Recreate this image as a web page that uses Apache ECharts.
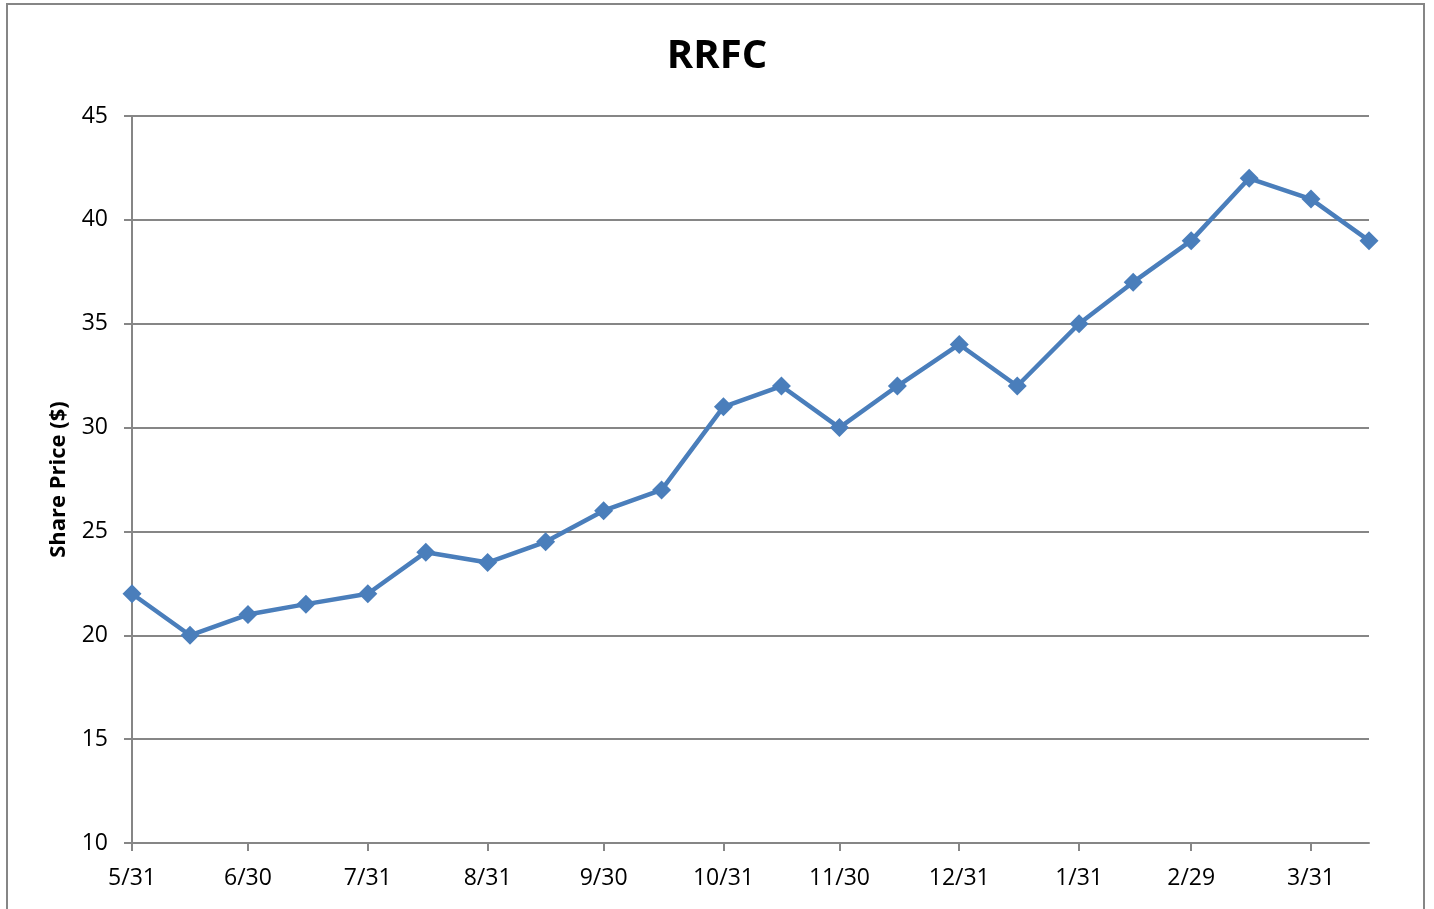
<!DOCTYPE html>
<html>
<head>
<meta charset="utf-8">
<script src="https://cdn.jsdelivr.net/npm/echarts@6/dist/echarts.min.js"></script>
<style>
  html, body { margin: 0; padding: 0; background: #fff; }
  #chart { width: 1434px; height: 909px; }
</style>
</head>
<body>
<div id="chart"></div>
<script>
// share price observations, roughly twice a month
const dates = [
  '2011-05-31', '2011-06-15', '2011-06-30', '2011-07-15', '2011-07-31', '2011-08-15',
  '2011-08-31', '2011-09-15', '2011-09-30', '2011-10-15', '2011-10-31', '2011-11-15',
  '2011-11-30', '2011-12-15', '2011-12-31', '2012-01-15', '2012-01-31', '2012-02-14',
  '2012-02-29', '2012-03-15', '2012-03-31', '2012-04-15'
]
const prices = [22, 20, 21, 21.5, 22, 24, 23.5, 24.5, 26, 27, 31, 32, 30, 32, 34, 32, 35, 37, 39, 42, 41, 39]
// month-end ticks shown on the x axis
const tickDates = [
  '2011-05-31', '2011-06-30', '2011-07-31', '2011-08-31', '2011-09-30', '2011-10-31',
  '2011-11-30', '2011-12-31', '2012-01-31', '2012-02-29', '2012-03-31'
]

function ts(s) {
  const [y, m, d] = s.split('-').map(Number)
  return new Date(y, m - 1, d).getTime()
}

const font = '"Open Sans", "Liberation Sans", sans-serif'
const axisGray = '#868686'
const blue = '#4a7ebb'
const ticks = tickDates.map(ts)

const chart = echarts.init(document.getElementById('chart'))
chart.setOption({
  animation: false,
  title: {
    text: 'RRFC',
    left: 'center',
    top: 32,
    textStyle: { fontFamily: font, fontSize: 40, fontWeight: 'bold', color: '#000' },
  },
  graphic: [{
    type: 'rect',
    shape: { x: 7, y: 4, width: 1417, height: 930 },
    style: { fill: 'none', stroke: axisGray, lineWidth: 2 },
    silent: true,
  }],
  grid: { left: 132, right: 65, top: 116, bottom: 66 },
  xAxis: {
    type: 'value',
    min: ts(dates[0]),
    max: ts(dates[dates.length - 1]),
    axisLine: { lineStyle: { color: axisGray, width: 2 } },
    axisTick: { show: true, customValues: ticks, length: 8, lineStyle: { color: axisGray, width: 2 } },
    axisLabel: {
      customValues: ticks,
      margin: 24,
      fontFamily: font,
      fontSize: 23,
      color: '#000',
      formatter: (v) => {
        const d = new Date(v)
        return `${d.getMonth() + 1}/${d.getDate()}`
      },
    },
    splitLine: { show: false },
  },
  yAxis: {
    type: 'value',
    min: 10,
    max: 45,
    interval: 5,
    name: 'Share Price ($)',
    nameLocation: 'middle',
    nameGap: 62,
    nameTextStyle: { fontFamily: font, fontSize: 22, fontWeight: 'bold', color: '#000' },
    axisLine: { show: true, lineStyle: { color: axisGray, width: 2 } },
    axisTick: { show: true, length: 8, lineStyle: { color: axisGray, width: 2 } },
    axisLabel: { margin: 24, fontFamily: font, fontSize: 23, color: '#000' },
    splitLine: { lineStyle: { color: axisGray, width: 2 } },
  },
  series: [{
    type: 'line',
    data: dates.map((d, i) => [ts(d), prices[i]]),
    symbol: 'diamond',
    symbolSize: 19,
    showAllSymbol: true,
    lineStyle: { color: blue, width: 4.5 },
    itemStyle: { color: blue },
  }],
})
</script>
</body>
</html>
